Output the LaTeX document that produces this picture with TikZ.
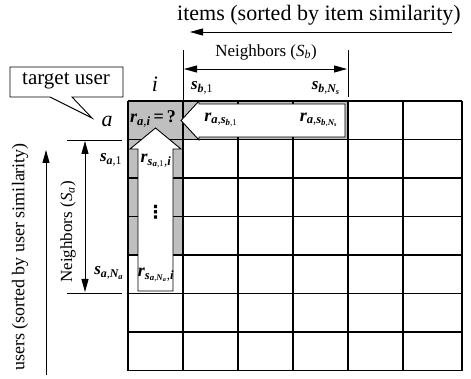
\documentclass[tikz,border=0pt]{standalone}
\usepackage{fontspec}
\setmainfont{Liberation Serif}
\newfontfamily\dejavu{DejaVu Sans}
\usetikzlibrary{arrows.meta}
\newcommand{\bi}[1]{{\bfseries\itshape #1}}
\newcommand{\sbs}[1]{\textsubscript{#1}}
\begin{document}
\begin{tikzpicture}[x=1pt,y=-1pt,
  gridline/.style={line width=1.1pt},
  thin line/.style={line width=0.9pt},
  arr/.style={line width=0.9pt,-{Triangle[length=13pt,width=7pt]}},
  darr/.style={line width=0.9pt,{Triangle[length=13pt,width=7pt]}-{Triangle[length=13pt,width=7pt]}},
  shadefill/.style={fill=gray!50},
  warrow/.style={fill=white,draw=black,line width=0.9pt,line join=miter},
  big/.style={inner sep=0pt,font=\fontsize{22}{26}\selectfont},
  mid/.style={inner sep=0pt,font=\fontsize{17}{20}\selectfont},
  lbl/.style={inner sep=0pt,font=\fontsize{17}{20}\selectfont},
  rl/.style={inner sep=0pt,font=\fontsize{18}{21}\selectfont},
]
\useasboundingbox (0,0) rectangle (471,379);

% shaded target column and row
\fill[shadefill] (128,101) rectangle (183,255);
\fill[shadefill] (128,101) rectangle (348,140);

% grid
\foreach \yy in {101,139.5,178,216.5,255,293.5,332,370.5}
  \draw[gridline] (128,\yy) -- (462,\yy);
\foreach \xx in {128,183,238,293,348,403,462}
  \draw[gridline] (\xx,101) -- (\xx,370.5);

% white arrows
\draw[warrow] (345,104) -- (199,104) -- (199,101) -- (181,120.5) -- (199,140) -- (199,137) -- (345,137) -- cycle;
\draw[warrow] (155.5,128) -- (130,149) -- (138,149) -- (138,291) -- (173,291) -- (173,149) -- (181,149) -- cycle;

% top axis
\node[big] (items) at (319,15) {items (sorted by item similarity)};
\coordinate (itR) at (452,32);
\coordinate (itL) at (190,32);
\draw[arr] (itR) -- (itL);

% neighbors S_b
\node[mid] (nbtext) at (266,52) {Neighbors (\textit{S}\textsubscript{\textit{b}})};
\coordinate (tickLt) at (183,50);
\coordinate (tickLb) at (183,101);
\coordinate (tickRt) at (348,50);
\coordinate (tickRb) at (348,97);
\draw[thin line] (tickLt) -- (tickLb);
\draw[thin line] (tickRt) -- (tickRb);
\coordinate (nbL) at (184,69);
\coordinate (nbR) at (347,69);
\draw[darr] (nbL) -- (nbR);

% column / row headers
\node[big] (ilabel) at (155,84) {\textit{i}};
\node[big] (alabel) at (107,121) {\textit{a}};
\node[lbl] (sb1) at (202,88) {\bi{s}\sbs{\bi{b},1}};
\node[lbl] (sbN) at (326,88) {\bi{s}\sbs{\bi{b},\bi{N}\sbs{\bi{s}}}};

% callout
\draw[fill=white,line width=0.9pt] (10,67) -- (123,67) -- (123,97) -- (72,97) -- (92,118) -- (50,97) -- (10,97) -- cycle;
\node[big,font=\fontsize{21}{24}\selectfont] (target) at (66,81) {target user};

% left axis
\node[mid,font=\fontsize{18}{21}\selectfont,rotate=90] (users) at (20,257) {users (sorted by user similarity)};
\coordinate (usB) at (46,375);
\coordinate (usT) at (46,150);
\draw[arr] (usB) -- (usT);

% neighbors S_a
\node[mid,rotate=90] (natext) at (68,232) {Neighbors (\textit{S}\textsubscript{\textit{a}})};
\coordinate (hl1a) at (67,140);
\coordinate (hl1b) at (122,140);
\coordinate (hl2a) at (67,293);
\coordinate (hl2b) at (122,293);
\draw[thin line] (hl1a) -- (hl1b);
\draw[thin line] (hl2a) -- (hl2b);
\coordinate (naT) at (85,141);
\coordinate (naB) at (85,292);
\draw[darr] (naT) -- (naB);

\node[lbl] (sa1) at (111,160) {\bi{s}\sbs{\bi{a},1}};
\node[lbl] (saN) at (109,273) {\bi{s}\sbs{\bi{a},\bi{N}\sbs{\bi{a}}}};

% ratings
\node[rl] (rai) at (153,119) {\bi{r}\sbs{\bi{a},\bi{i}}\,\textbf{=}\,\textbf{?}};
\node[rl] (rsb1) at (221,120) {\bi{r}\sbs{\bi{a},\bi{s}\sbs{\bi{b},1}}};
\node[rl] (rsbN) at (319,120) {\bi{r}\sbs{\bi{a},\bi{s}\sbs{\bi{b},\bi{N}\sbs{\bi{s}}}}};
\node[rl] (rsa1) at (156,161) {\bi{r}\sbs{\bi{s}\sbs{\bi{a},1},\bi{i}}};
\node[rl] (rsaN) at (156,275) {\bi{r}\sbs{\bi{s}\sbs{\bi{a},\bi{N}\sbs{\bi{a}}},\bi{i}}};
\node[inner sep=0pt,font=\dejavu\bfseries\fontsize{18}{20}\selectfont] (dots) at (155.5,212) {⋮};
\end{tikzpicture}
\end{document}
